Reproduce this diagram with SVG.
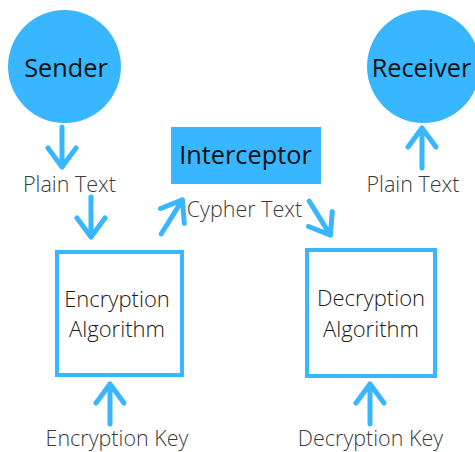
<svg xmlns="http://www.w3.org/2000/svg" xmlns:xlink="http://www.w3.org/1999/xlink" width="475" height="452" viewBox="0 0 475 452">
<style>
.fill{fill:#38b6ff;}
.box{fill:#ffffff;stroke:#38b6ff;stroke-width:4;}
.title{font-family:"Open Sans","Liberation Sans",sans-serif;font-size:25.3px;fill:#111111;text-anchor:middle;}
.lbl{font-family:"Open Sans","Liberation Sans",sans-serif;font-size:21.5px;font-weight:300;fill:#3a3a3a;text-anchor:middle;}
.btxt{font-family:"Open Sans","Liberation Sans",sans-serif;font-size:22px;font-weight:300;fill:#1a1a1a;text-anchor:middle;}
.arr{fill:none;stroke:#38b6ff;stroke-width:5;stroke-linecap:round;stroke-linejoin:round;}
</style>
<defs>
<path id="arr" class="arr" d="M0,1 L0,41 M-14,20 L0,1 L14,20"/>
</defs>
<rect width="475" height="452" fill="#ffffff"/>
<g id="sender">
<circle class="fill" cx="64.5" cy="66.5" r="56.5"/>
<text class="title" x="66" y="77">Sender</text>
</g>
<g id="receiver">
<circle class="fill" cx="423.5" cy="66.5" r="56.5"/>
<text class="title" x="421.5" y="77">Receiver</text>
</g>
<g id="interceptor">
<rect class="fill" x="171" y="127" width="150" height="57"/>
<text class="title" x="245.5" y="164">Interceptor</text>
</g>
<g id="encryption">
<rect class="box" x="57" y="252" width="125" height="123"/>
<text class="btxt" x="117" y="307">Encryption</text>
<text class="btxt" x="117" y="337">Algorithm</text>
</g>
<g id="decryption">
<rect class="box" x="307" y="250" width="128" height="126"/>
<text class="btxt" x="371" y="306">Decryption</text>
<text class="btxt" x="371" y="337">Algorithm</text>
</g>
<g id="labels">
<text class="lbl" x="69.5" y="192">Plain Text</text>
<text class="lbl" x="413" y="192">Plain Text</text>
<text class="lbl" x="244.5" y="217">Cypher Text</text>
<text class="lbl" x="117" y="446">Encryption Key</text>
<text class="lbl" x="370.5" y="446">Decryption Key</text>
</g>
<g id="connectors">
<use xlink:href="#arr" transform="translate(62,168) rotate(180)"/>
<use xlink:href="#arr" transform="translate(91,238) rotate(180)"/>
<use xlink:href="#arr" transform="translate(183,199) rotate(32)"/>
<use xlink:href="#arr" transform="translate(331,236) rotate(148)"/>
<use xlink:href="#arr" transform="translate(422,127)"/>
<use xlink:href="#arr" transform="translate(110,383)"/>
<use xlink:href="#arr" transform="translate(370,383)"/>
</g>
</svg>
